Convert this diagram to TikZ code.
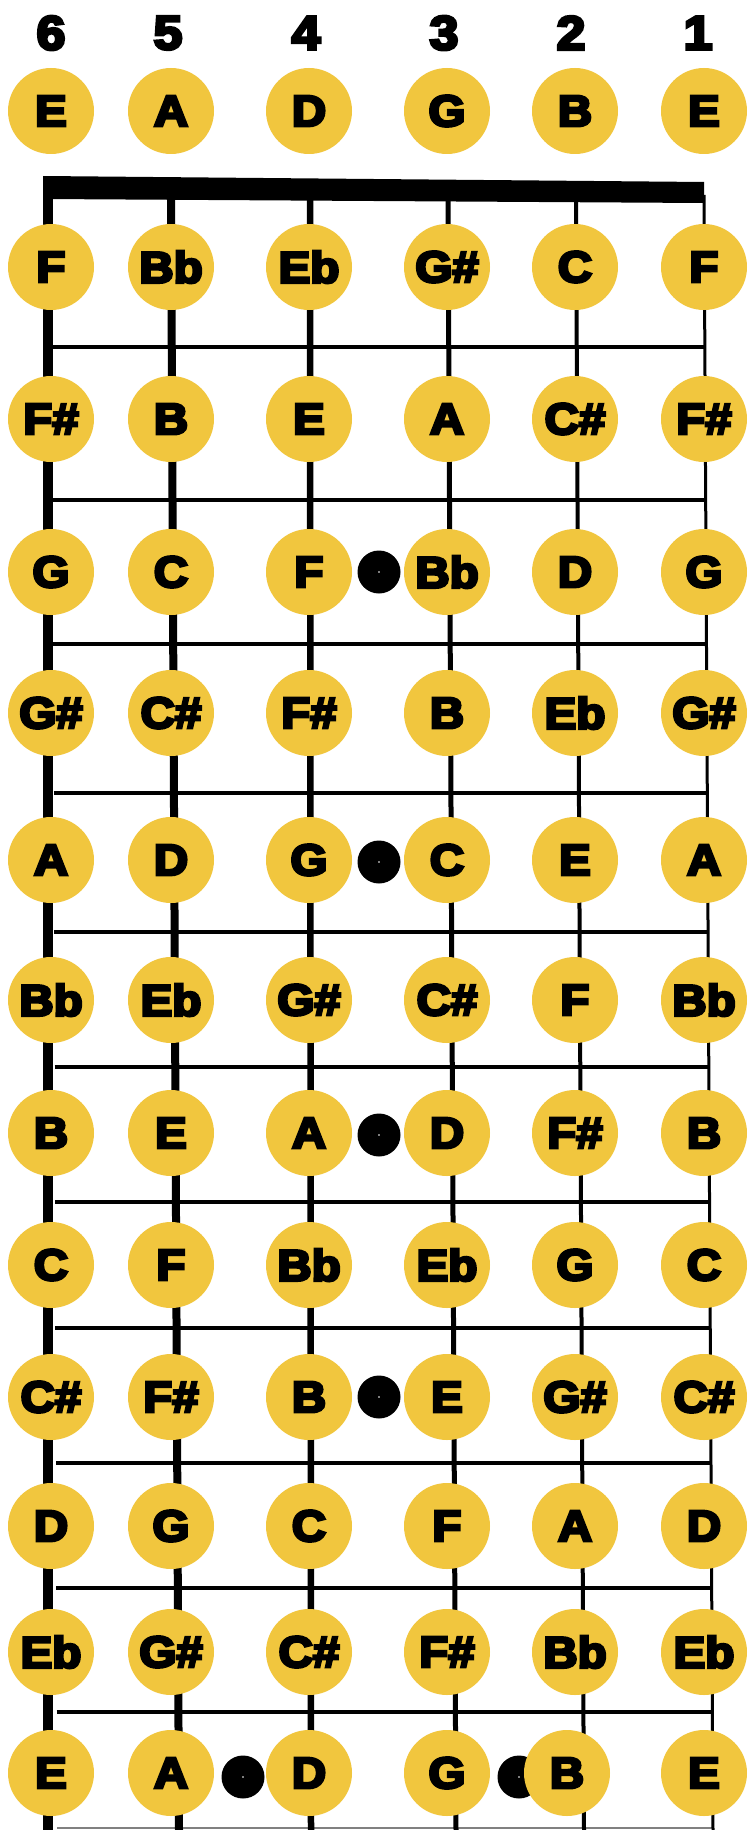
\documentclass[tikz,border=0pt]{standalone}
\usepackage{fontspec}
\usepackage{graphicx}
\newfontfamily\notefont{Liberation Sans}[UprightFont={* Bold}, UprightFeatures={FakeBold=6}]
\definecolor{gold}{RGB}{241,198,62}
\newcommand\nt[1]{\scalebox{1.08}[1]{#1}}
\newcommand\fbrow[8]{%
  \node[note] (n#2s6) at (51,#1) {\nt{#3}};
  \node[note] (n#2s5) at (171,#1) {\nt{#4}};
  \node[note] (n#2s4) at (309,#1) {\nt{#5}};
  \node[note] (n#2s3) at (447,#1) {\nt{#6}};
  \node[note] (n#2s2) at (575,#1) {\nt{#7}};
  \node[note] (n#2s1) at (704,#1) {\nt{#8}};
}
\begin{document}
\begin{tikzpicture}[x=1pt,y=-1pt,
  note/.style={circle,fill=gold,minimum size=86pt,inner sep=0pt,
    font=\notefont\fontsize{44}{44}\selectfont},
  numlabel/.style={inner sep=0pt,font=\notefont\fontsize{48}{48}\selectfont},
  fretline/.style={line width=4.5pt},
  inlay/.style={fill=black}]
\useasboundingbox (0,0) rectangle (747,1830);
\fill[white] (0,0) rectangle (747,1830);
% fret lines
\foreach \fy in {347,500,644,793,932,1067,1202,1328,1463,1588,1712}{
  \pgfmathsetmacro\xa{52+5*(\fy-200)/1630}
  \pgfmathsetmacro\xb{705+8*(\fy-200)/1630}
  \coordinate (fa\fy) at (\xa,\fy);
  \coordinate (fb\fy) at (\xb,\fy);
  \draw[fretline] (fa\fy) -- (fb\fy);
}
\coordinate (ga) at (57,1828);
\coordinate (gb) at (713,1828);
\draw[gray,line width=1.5pt] (ga) -- (gb);
% strings
\coordinate (s6t) at (48,195); \coordinate (s6b) at (48,1830);
\coordinate (s5t) at (171,195); \coordinate (s5b) at (179,1830);
\coordinate (s4t) at (310,195); \coordinate (s4b) at (311,1830);
\coordinate (s3t) at (448,195); \coordinate (s3b) at (456,1830);
\coordinate (s2t) at (576,195); \coordinate (s2b) at (584,1830);
\coordinate (s1t) at (704,195); \coordinate (s1b) at (713,1830);
\draw[line width=10pt] (s6t) -- (s6b);
\draw[line width=8pt] (s5t) -- (s5b);
\draw[line width=6.5pt] (s4t) -- (s4b);
\draw[line width=5pt] (s3t) -- (s3b);
\draw[line width=4pt] (s2t) -- (s2b);
\draw[line width=3pt] (s1t) -- (s1b);
% nut
\fill (43,176) -- (704,182) -- (704,203) -- (43,199) -- cycle;
% inlay dots
\foreach \dx/\dy in {379/572, 379/862, 379/1135, 379/1397, 243/1777, 519/1777}{
  \fill[inlay] (\dx,\dy) circle (21.5);
  \fill[white] (\dx,\dy) circle (0.8);
}
% string numbers
\node[numlabel] (num6) at (51,33) {\nt{6}};
\node[numlabel] (num5) at (168,33) {\nt{5}};
\node[numlabel] (num4) at (306,33) {\nt{4}};
\node[numlabel] (num3) at (444,33) {\nt{3}};
\node[numlabel] (num2) at (571,33) {\nt{2}};
\node[numlabel] (num1) at (698,33) {\nt{1}};
% notes
\fbrow{111}{0}{E}{A}{D}{G}{B}{E}
\fbrow{267}{1}{F}{Bb}{Eb}{G\#}{C}{F}
\fbrow{419}{2}{F\#}{B}{E}{A}{C\#}{F\#}
\fbrow{572}{3}{G}{C}{F}{Bb}{D}{G}
\fbrow{713}{4}{G\#}{C\#}{F\#}{B}{Eb}{G\#}
\fbrow{860}{5}{A}{D}{G}{C}{E}{A}
\fbrow{1000}{6}{Bb}{Eb}{G\#}{C\#}{F}{Bb}
\fbrow{1133}{7}{B}{E}{A}{D}{F\#}{B}
\fbrow{1265}{8}{C}{F}{Bb}{Eb}{G}{C}
\fbrow{1397}{9}{C\#}{F\#}{B}{E}{G\#}{C\#}
\fbrow{1526}{10}{D}{G}{C}{F}{A}{D}
\fbrow{1652}{11}{Eb}{G\#}{C\#}{F\#}{Bb}{Eb}
\node[note] (n12s6) at (51,1773) {\nt{E}};
\node[note] (n12s5) at (171,1773) {\nt{A}};
\node[note] (n12s4) at (309,1773) {\nt{D}};
\node[note] (n12s3) at (447,1773) {\nt{G}};
\node[note] (n12s2) at (567,1773) {\nt{B}};
\node[note] (n12s1) at (704,1773) {\nt{E}};
\end{tikzpicture}
\end{document}
